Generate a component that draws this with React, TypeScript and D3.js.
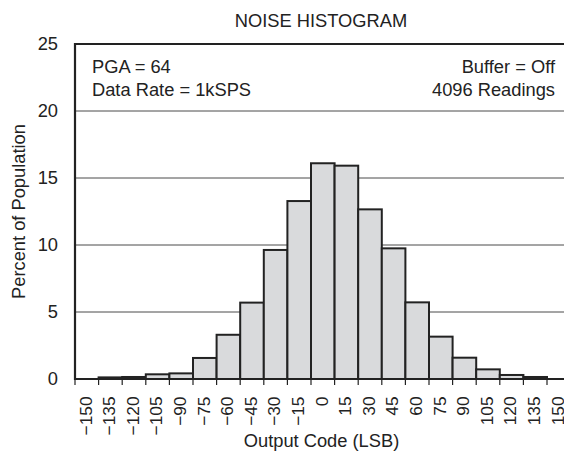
import React from 'react';
import * as d3 from 'd3';

const codes = [-150, -135, -120, -105, -90, -75, -60, -45, -30, -15, 0, 15, 30, 45, 60, 75, 90, 105, 120, 135, 150];
const percents = [0, 0.12, 0.15, 0.35, 0.42, 1.57, 3.3, 5.7, 9.63, 13.28, 16.1, 15.92, 12.66, 9.75, 5.72, 3.16, 1.59, 0.72, 0.3, 0.15, 0];
const yTicks = [0, 5, 10, 15, 20, 25];
const notesLeft = ['PGA = 64', 'Data Rate = 1kSPS'];
const notesRight = ['Buffer = Off', '4096 Readings'];

const W = 564;
const H = 451;
const margin = { top: 44, left: 75 };
const font = '"Liberation Sans", Arial, Helvetica, sans-serif';
const ink = '#222';
const fs = 18.3;

export default function App() {
  const x = d3.scaleBand<number>()
    .domain(codes)
    .range([margin.left, margin.left + 23.6 * codes.length])
    .padding(0);
  const y = d3.scaleLinear().domain([0, 25]).range([379, margin.top]);
  const bw = x.bandwidth();
  const xEnd = W;

  return (
    <svg width={W} height={H} style={{ position: 'absolute', left: 0, top: 0, background: '#fff' }}
      fontFamily={font} fill={ink}>
      <text x={321} y={27} fontSize={fs} textAnchor="middle">NOISE HISTOGRAM</text>

      {/* grid */}
      {yTicks.filter(t => t > 0 && t < 25).map(t => (
        <line key={t} x1={margin.left} x2={xEnd} y1={y(t)} y2={y(t)} stroke="#4a4a4a" strokeWidth={1} />
      ))}

      {/* bars */}
      {codes.map((c, i) => percents[i] > 0 && (
        <rect key={c} x={x(c)} y={y(percents[i])} width={bw} height={y(0) - y(percents[i])}
          fill="#d9dadc" stroke={ink} strokeWidth={2} />
      ))}

      {/* frame */}
      <line x1={margin.left} x2={xEnd} y1={y(25)} y2={y(25)} stroke={ink} strokeWidth={2.2} />
      <line x1={margin.left} x2={margin.left} y1={y(25) - 1} y2={y(0) + 1} stroke={ink} strokeWidth={2.2} />
      <line x1={margin.left - 1} x2={xEnd} y1={y(0)} y2={y(0)} stroke={ink} strokeWidth={2.2} />

      {/* x ticks */}
      {codes.map(c => (
        <line key={c} x1={x(c)!} x2={x(c)!} y1={y(0)} y2={y(0) + 6} stroke={ink} strokeWidth={1.2} />
      ))}
      {codes.map(c => {
        const cx = x(c)! + bw / 2 - 1.2;
        return (
          <text key={c} transform={`translate(${cx},396.5) rotate(-90)`} fontSize={17.3}
            textAnchor="end" dy="0.35em">
            {c < 0 ? `\u2212${-c}` : c}
          </text>
        );
      })}

      {/* y tick labels */}
      {yTicks.map(t => (
        <text key={t} x={58} y={y(t)} fontSize={fs} textAnchor="end" dy="0.35em">{t}</text>
      ))}

      <text transform={`translate(25,${(y(0) + y(25)) / 2}) rotate(-90)`} fontSize={fs} textAnchor="middle">
        Percent of Population
      </text>
      <text x={321.5} y={447} fontSize={fs} textAnchor="middle">Output Code (LSB)</text>

      {notesLeft.map((s, i) => (
        <text key={s} x={92} y={72.5 + i * 23.5} fontSize={fs}>{s}</text>
      ))}
      {notesRight.map((s, i) => (
        <text key={s} x={555} y={72.5 + i * 23.5} fontSize={fs} textAnchor="end">{s}</text>
      ))}
    </svg>
  );
}
